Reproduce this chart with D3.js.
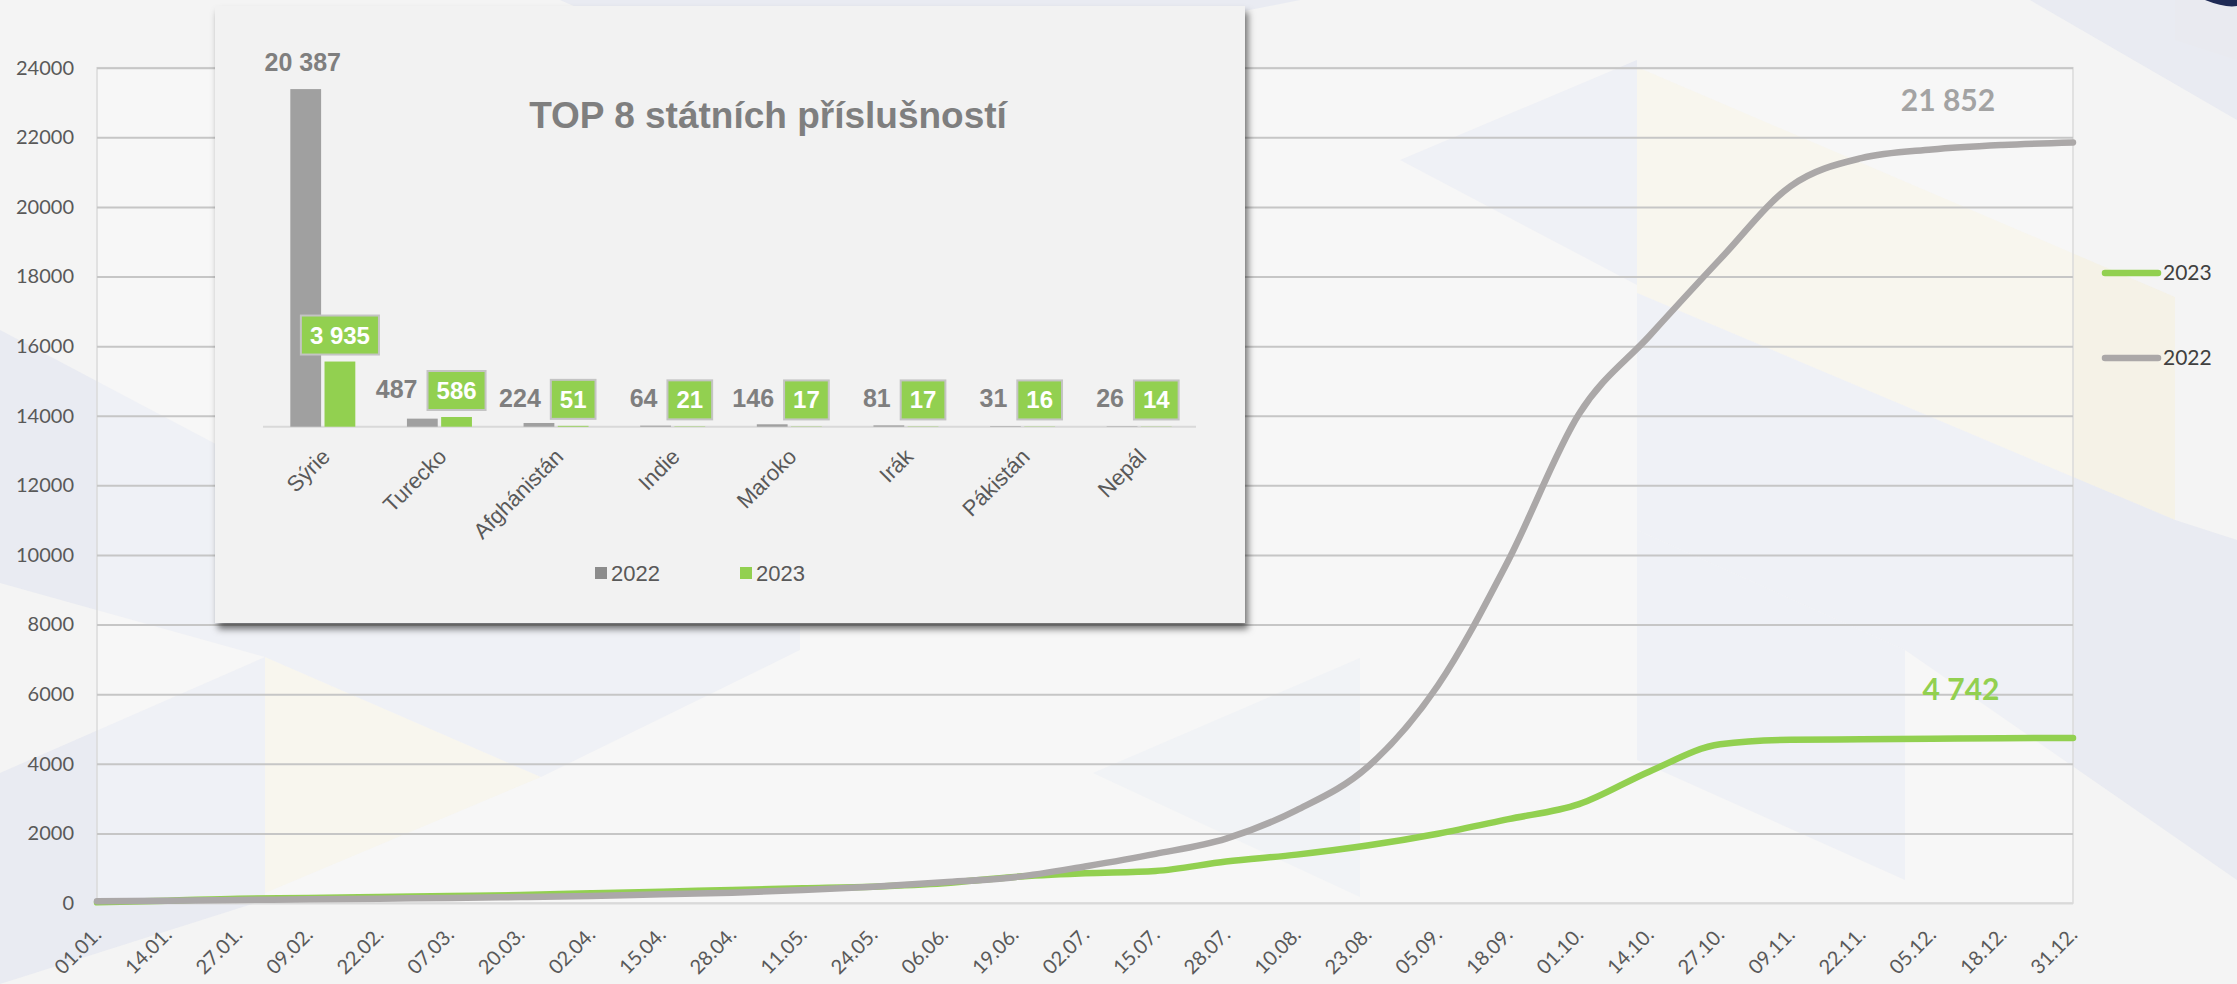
<!DOCTYPE html>
<html>
<head>
<meta charset="utf-8">
<script src="https://cdn.jsdelivr.net/npm/d3@7"></script>
<style>
  body { margin: 0; background: #f4f4f4; }
  svg { display: block; }
</style>
</head>
<body>
<div id="chart"></div>
<script>
// x axis labels, one every 13 days
var dayLabels = ["01.01.","14.01.","27.01.","09.02.","22.02.","07.03.","20.03.","02.04.","15.04.","28.04.",
    "11.05.","24.05.","06.06.","19.06.","02.07.","15.07.","28.07.","10.08.","23.08.","05.09.",
    "18.09.","01.10.","14.10.","27.10.","09.11.","22.11.","05.12.","18.12.","31.12."];

// cumulative counts read at those days
var cumul2022 = [50, 67, 86, 105, 125, 144, 172, 201, 249, 297, 374, 469, 594, 740, 1050, 1410, 1850, 2670,
    3900, 6250, 9850, 14050, 16300, 18500, 20600, 21400, 21650, 21780, 21852];
var cumul2023 = [20, 67, 125, 144, 172, 201, 230, 278, 326, 374, 422, 469, 565, 750, 853, 920, 1190, 1390,
    1650, 1990, 2410, 2840, 3780, 4560, 4690, 4705, 4720, 4735, 4742];

var yTicks = [0, 2000, 4000, 6000, 8000, 10000, 12000, 14000, 16000, 18000, 20000, 22000, 24000];

// inset: top 8 nationalities
var countries = ["Sýrie", "Turecko", "Afghánistán", "Indie", "Maroko", "Irák", "Pákistán", "Nepál"];
var top2022 = [20387, 487, 224, 64, 146, 81, 31, 26];
var top2023 = [3935, 586, 51, 21, 17, 17, 16, 14];
var years = ["2022", "2023"];

var grey = "#aba8a8", green = "#92d050";
var numFmt = function(v) { return d3.format(",")(v).replace(/,/g, " "); };

var W = 2237, H = 984;
var svg = d3.select("#chart").append("svg")
    .attr("width", W)
    .attr("height", H);

var defs = svg.append("defs");
var f = defs.append("filter").attr("id", "shadow")
    .attr("x", "-5%").attr("y", "-5%").attr("width", "112%").attr("height", "115%");
f.append("feDropShadow").attr("dx", 3).attr("dy", 6).attr("stdDeviation", 3.5)
    .attr("flood-color", "#000").attr("flood-opacity", 0.55);

// Background decoration (soft triangles)
svg.append("rect").attr("width", W).attr("height", H).attr("fill", "#f4f4f4");
var bgShapes = [
    {c: "#e6e9f1", p: [[560,0],[1300,0],[1000,60],[860,130]]},
    {c: "#e6e9f1", p: [[0,330],[265,470],[265,657],[0,583]]},
    {c: "#e6e9f1", p: [[0,773],[265,657],[265,900],[0,984]]},
    {c: "#f5f1e4", p: [[265,657],[541,777],[265,893]]},
    {c: "#e6e9f1", p: [[265,657],[265,560],[800,560],[800,650],[541,777]]},
    {c: "#e9ecf2", p: [[1093,773],[1360,658],[1360,897]]},
    {c: "#f5f1e4", p: [[1637,67],[2175,297],[2175,520],[1637,293]]},
    {c: "#e6e9f1", p: [[1637,293],[2175,520],[2237,540],[2237,880],[1905,650],[1637,530]]},
    {c: "#e6e9f1", p: [[1637,530],[1905,650],[1905,880],[1637,760]]},
    {c: "#e6e9f1", p: [[1400,160],[1637,60],[1637,285]]},
    {c: "#f5f1e4", p: [[2175,0],[2237,0],[2237,60],[2175,40]]},
    {c: "#e6e9f1", p: [[2030,0],[2237,0],[2237,120]]}
];
svg.append("g").selectAll("polygon")
    .data(bgShapes)
    .enter().append("polygon")
        .attr("points", function(d) { return d.p.join(" "); })
        .attr("fill", function(d) { return d.c; })
        .attr("opacity", 0.85);
svg.append("path").attr("d", "M2205,0 Q2225,8 2237,6 L2237,0 Z").attr("fill", "#1f2a55");

// Main chart scales
var parseDay = d3.timeParse("%d.%m.%Y");
var dates = dayLabels.map(function(d) { return parseDay(d + "2023"); });
var x = d3.scaleTime().domain(d3.extent(dates)).range([97, 2073]);
var y = d3.scaleLinear().domain([0, 24000]).range([903, 67.7]);

// plot area
svg.append("rect")
    .attr("x", 97).attr("y", 67.7)
    .attr("width", 2073 - 97).attr("height", 903 - 67.7)
    .attr("fill", "rgba(255,255,255,0.3)")
    .attr("stroke", "#dadada").attr("stroke-width", 1.5);

// y axis + gridlines
svg.append("g")
    .attr("transform", "translate(97,0)")
    .call(d3.axisLeft(y).tickValues(yTicks).tickSize(-(2073 - 97)).tickPadding(23).tickFormat(d3.format("d")))
    .call(function(g) { g.select(".domain").remove(); })
    .call(function(g) {
        g.selectAll("line").attr("stroke", function(d) { return d === 0 ? "#d9d9d9" : "#c6c6c6"; }).attr("stroke-width", 2);
        g.selectAll("text").attr("fill", "#595959").style("font", "20px Lato");
    });

// x axis
svg.append("g")
    .attr("transform", "translate(0,903)")
    .call(d3.axisBottom(x).tickValues(dates).tickSize(0).tickFormat(d3.timeFormat("%d.%m.")))
    .call(function(g) { g.select(".domain").remove(); })
    .call(function(g) {
        g.selectAll("text")
            .attr("x", 0).attr("y", 0).attr("dy", 0)
            .attr("text-anchor", "end")
            .attr("transform", "translate(5,33) rotate(-45)")
            .attr("fill", "#595959")
            .style("font", "20px Lato");
    });

// the two cumulative lines
var line = d3.line()
    .x(function(d, i) { return x(dates[i]); })
    .y(function(d) { return y(d); })
    .curve(d3.curveMonotoneX);

svg.append("path").attr("d", line(cumul2023))
    .attr("fill", "none").attr("stroke", green).attr("stroke-width", 6.5)
    .attr("stroke-linejoin", "round").attr("stroke-linecap", "round");
svg.append("path").attr("d", line(cumul2022))
    .attr("fill", "none").attr("stroke", grey).attr("stroke-width", 6.5)
    .attr("stroke-linejoin", "round").attr("stroke-linecap", "round");

// end values
var last = dates.length - 1;
svg.append("text")
    .attr("x", x(dates[last]) - 125).attr("y", y(cumul2022[last]) - 31)
    .attr("text-anchor", "middle").attr("fill", "#a3a3a3")
    .style("font", "bold 30px Lato")
    .text(numFmt(cumul2022[last]));
svg.append("text")
    .attr("x", x(dates[last]) - 112).attr("y", y(cumul2023[last]) - 38)
    .attr("text-anchor", "middle").attr("fill", green)
    .style("font", "bold 30px Lato")
    .text(numFmt(cumul2023[last]));

// legend of the line chart
var legend = [{name: "2023", color: green, y: 273}, {name: "2022", color: grey, y: 358}];
var lg = svg.append("g").selectAll("g").data(legend).enter().append("g")
    .attr("transform", function(d) { return "translate(2105," + d.y + ")"; });
lg.append("line").attr("x1", 0).attr("x2", 53)
    .attr("stroke", function(d) { return d.color; }).attr("stroke-width", 6.5).attr("stroke-linecap", "round");
lg.append("text").attr("x", 58).attr("dy", "0.35em")
    .attr("fill", "#404040").style("font", "21px Lato")
    .text(function(d) { return d.name; });

// ---------- inset bar chart ----------
var inset = svg.append("g");
inset.append("rect")
    .attr("x", 215).attr("y", 6).attr("width", 1030).attr("height", 617)
    .attr("fill", "#f2f2f2").attr("filter", "url(#shadow)");

inset.append("text")
    .attr("x", 768).attr("y", 128)
    .attr("text-anchor", "middle").attr("fill", "#7f7f7f")
    .style("font", "bold 37px 'Liberation Sans', Arial, sans-serif")
    .text("TOP 8 státních příslušností");

var bx = d3.scaleBand().domain(countries).range([263, 1196]);
var bx1 = d3.scaleBand().domain(years).range([-31, 34]).paddingInner(0.1);
var by = d3.scaleLinear().domain([0, 25000]).range([426.7, 12.7]);

var rows = countries.map(function(c, i) { return {name: c, v: [top2022[i], top2023[i]]}; });

inset.append("line")
    .attr("x1", 263).attr("x2", 1196).attr("y1", by(0)).attr("y2", by(0))
    .attr("stroke", "#d9d9d9").attr("stroke-width", 2);

var grp = inset.selectAll(".cat").data(rows).enter().append("g")
    .attr("class", "cat")
    .attr("transform", function(d) { return "translate(" + (bx(d.name) + bx.bandwidth() / 2) + ",0)"; });

grp.selectAll("rect.bar").data(function(d) { return d.v; }).enter().append("rect")
    .attr("class", "bar")
    .attr("x", function(d, i) { return bx1(years[i]); })
    .attr("width", bx1.bandwidth())
    .attr("y", function(d) { return by(d); })
    .attr("height", function(d) { return by(0) - by(d); })
    .attr("fill", function(d, i) { return i === 0 ? "#a0a0a0" : green; });

// green boxed labels
var font2 = "bold 24px 'Liberation Sans', Arial, sans-serif";
grp.each(function(d) {
    var g = d3.select(this);
    var gx = bx1("2023") + bx1.bandwidth() / 2;
    var boxBottom = by(d.v[1]) - 7, boxH = 39;
    var t = g.append("text")
        .attr("x", gx).attr("y", boxBottom - 11)
        .attr("text-anchor", "middle").attr("fill", "#fff")
        .style("font", font2)
        .text(numFmt(d.v[1]));
    var tw = t.node().getComputedTextLength() + 18;
    g.insert("rect", "text")
        .attr("x", gx - tw / 2).attr("y", boxBottom - boxH)
        .attr("width", tw).attr("height", boxH)
        .attr("fill", green).attr("stroke", "#c4c4c4").attr("stroke-width", 2);

    // grey value label
    var grayTop = by(d.v[0]);
    var lab = g.append("text").attr("fill", "#7f7f7f")
        .style("font", "bold 25px 'Liberation Sans', Arial, sans-serif")
        .text(numFmt(d.v[0]));
    if (grayTop < boxBottom - boxH) {
        lab.attr("x", bx1("2022") + bx1.bandwidth() / 2 - 3).attr("y", grayTop - 18).attr("text-anchor", "middle");
    } else {
        lab.attr("x", gx - tw / 2 - 10).attr("y", boxBottom - 12).attr("text-anchor", "end");
    }
});

// category labels
grp.append("text")
    .attr("text-anchor", "end")
    .attr("transform", "translate(10,458) rotate(-45)")
    .attr("fill", "#595959")
    .style("font", "22px 'Liberation Sans', Arial, sans-serif")
    .text(function(d) { return d.name; });

// inset legend
var il = inset.selectAll(".ileg").data(years).enter().append("g")
    .attr("class", "ileg")
    .attr("transform", function(d, i) { return "translate(" + (595 + i * 145) + ",567)"; });
il.append("rect").attr("width", 12).attr("height", 12)
    .attr("fill", function(d, i) { return i === 0 ? "#8c8c8c" : green; });
il.append("text").attr("x", 16).attr("y", 14)
    .attr("fill", "#595959")
    .style("font", "22px 'Liberation Sans', Arial, sans-serif")
    .text(function(d) { return d; });
</script>
</body>
</html>
